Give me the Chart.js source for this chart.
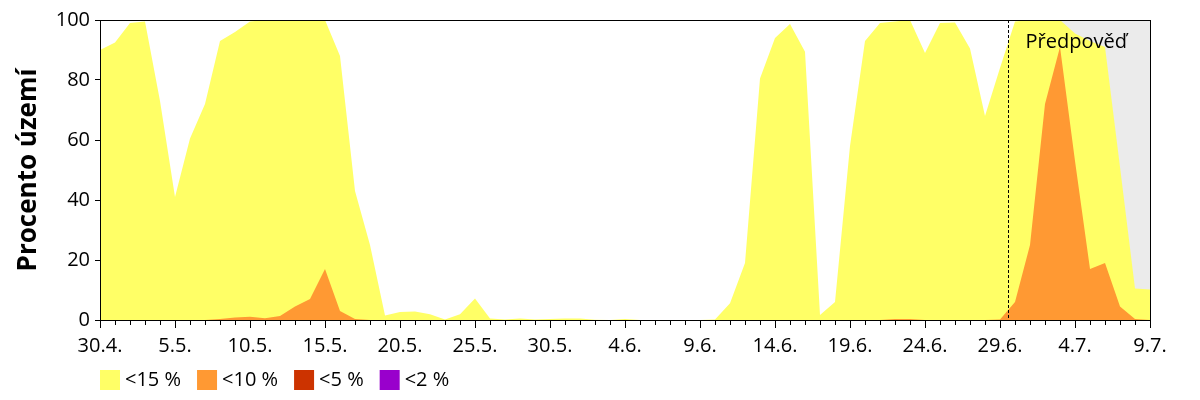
<!DOCTYPE html>
<html><head><meta charset="utf-8">
<script src="https://cdn.jsdelivr.net/npm/chart.js@4.4.1/dist/chart.umd.min.js"></script>
<style>html,body{margin:0;padding:0;background:#fff}#wrap{width:1200px;height:400px}</style>
</head><body><div id="wrap"><canvas id="c" width="1200" height="400"></canvas></div>
<script>
const dates = ['30.4.',
 '1.5.','2.5.','3.5.','4.5.','5.5.','6.5.','7.5.','8.5.','9.5.','10.5.',
 '11.5.','12.5.','13.5.','14.5.','15.5.','16.5.','17.5.','18.5.','19.5.','20.5.',
 '21.5.','22.5.','23.5.','24.5.','25.5.','26.5.','27.5.','28.5.','29.5.','30.5.','31.5.',
 '1.6.','2.6.','3.6.','4.6.','5.6.','6.6.','7.6.','8.6.','9.6.','10.6.',
 '11.6.','12.6.','13.6.','14.6.','15.6.','16.6.','17.6.','18.6.','19.6.','20.6.',
 '21.6.','22.6.','23.6.','24.6.','25.6.','26.6.','27.6.','28.6.','29.6.','30.6.',
 '1.7.','2.7.','3.7.','4.7.','5.7.','6.7.','7.7.','8.7.','9.7.'];

const tickDays = [0,5,10,15,20,25,30,35,40,45,50,55,60,65,70];

const below15 = [90,92.5,99,99.5,73,41,60.5,72,93,96,
 99.5,100,100,100,100,100,88,43,25,1.5,
 2.7,2.8,1.9,0.2,1.9,7.2,0.5,0.2,0.5,0.2,
 0.3,0.5,0.5,0.1,0,0.3,0,0,0,0,
 0,0.2,5.6,19,80.5,94,98.7,89.4,1.7,6,
 58,93,99,99.5,100,89,99,99.2,90.5,68,
 84,99.5,100,100,100,95.5,93,91,51,10.5,
 10.2];

const below10 = [0,0,0,0,0,0,0,0,0.3,0.8,
 1.1,0.6,1.3,4.5,7,17,3,0.3,0,0,
 0,0,0,0,0,0,0,0,0,0,
 0,0,0,0,0,0,0,0,0,0,
 0,0,0,0,0,0,0,0,0,0,
 0,0,0,0.3,0.3,0,0,0,0,0,
 0.2,6,25,72,91,53,17,19,4.5,0.3,
 0];

const below5 = [0,0,0,0,0,0,0,0,0,0,
 0,0,0,0,0,0,0,0,0,0,
 0,0,0,0,0,0,0,0,0,0,
 0,0,0,0,0,0,0,0,0,0,
 0,0,0,0,0,0,0,0,0,0,
 0,0,0,0,0,0,0,0,0,0,
 0,0,0,0,0,0,0,0,0,0,
 0];

const below2 = [0,0,0,0,0,0,0,0,0,0,
 0,0,0,0,0,0,0,0,0,0,
 0,0,0,0,0,0,0,0,0,0,
 0,0,0,0,0,0,0,0,0,0,
 0,0,0,0,0,0,0,0,0,0,
 0,0,0,0,0,0,0,0,0,0,
 0,0,0,0,0,0,0,0,0,0,
 0];

const seriesLabels = ['<15 %','<10 %','<5 %','<2 %'];
const seriesColors = ['#FFFF66','#FF9933','#CC3300','#9900CC'];
const yTicks = [0,20,40,60,80,100];
const forecastStart = 60.5;
const grayFrom = 64;
const forecastText = 'Předpověď';
const yTitle = 'Procento území';

const FONT = '"Open Sans", "DejaVu Sans", sans-serif';

function toXY(arr){ return arr.map((v,i)=>({x:i,y:v})); }

const allSeries = [below15, below10, below5, below2];
const datasets = allSeries.map((arr,k)=>({
  label: seriesLabels[k],
  data: toXY(arr),
  backgroundColor: seriesColors[k],
  borderColor: 'rgba(0,0,0,0)',
  borderWidth: 0,
  pointRadius: 0,
  pointHoverRadius: 0,
  tension: 0,
  fill: 'origin',
  order: 4-k
}));

const extras = {
  id:'extras',
  beforeDatasetsDraw(chart){
    const {ctx, chartArea:a, scales:{x}} = chart;
    const gx = Math.round(x.getPixelForValue(grayFrom));
    ctx.save();
    ctx.fillStyle = '#EBEBEB';
    ctx.fillRect(gx, a.top, a.right-gx, a.bottom-a.top);
    ctx.restore();
  },
  afterDatasetsDraw(chart){
    const {ctx, chartArea:a, scales:{x}} = chart;
    const fx = Math.round(x.getPixelForValue(forecastStart)) + 0.5;
    ctx.save();
    ctx.strokeStyle = '#000';
    ctx.lineWidth = 1;
    ctx.setLineDash([3,2]);
    ctx.beginPath();
    ctx.moveTo(fx, a.top);
    ctx.lineTo(fx, a.bottom);
    ctx.stroke();
    ctx.setLineDash([]);
    ctx.fillStyle = '#000';
    ctx.font = '20px ' + FONT;
    ctx.textBaseline = 'alphabetic';
    ctx.textAlign = 'left';
    ctx.fillText(forecastText, fx + 17, a.top + 28);
    ctx.restore();
  },
  afterDraw(chart){
    const {ctx, chartArea:a, scales:{x}} = chart;
    ctx.save();
    ctx.strokeStyle = '#000';
    ctx.lineWidth = 1;
    ctx.strokeRect(Math.round(a.left)+0.5, Math.round(a.top)+0.5, Math.round(a.right-a.left), Math.round(a.bottom-a.top));
    ctx.beginPath();
    for (let d=0; d<dates.length; d++){
      if (tickDays.includes(d)) continue;
      const px = Math.round(x.getPixelForValue(d)) + 0.5;
      ctx.moveTo(px, Math.round(a.bottom));
      ctx.lineTo(px, Math.round(a.bottom)+5);
    }
    ctx.stroke();
    ctx.font = '20px ' + FONT;
    ctx.textBaseline = 'middle';
    ctx.textAlign = 'left';
    let lx = a.left;
    const ly = 370;
    for (let k=0;k<seriesLabels.length;k++){
      ctx.fillStyle = seriesColors[k];
      ctx.fillRect(lx, ly, 20, 20);
      ctx.fillStyle = '#000';
      ctx.fillText(seriesLabels[k], lx + 25, ly + 10);
      lx += 25 + ctx.measureText(seriesLabels[k]).width + 16;
    }
    ctx.restore();
  }
};

new Chart(document.getElementById('c'), {
  type: 'line',
  data: { datasets },
  options: {
    responsive: false,
    animation: false,
    devicePixelRatio: 1,
    layout: { padding: { top: 20, right: 50, left: 0, bottom: 0 } },
    plugins: { legend: { display: false }, tooltip: { enabled: false } },
    scales: {
      x: {
        type: 'linear', min: 0, max: 70,
        afterFit: s => { s.height = 80; },
        afterBuildTicks: s => { s.ticks = tickDays.map(v=>({value:v})); },
        ticks: { autoSkip: false, maxRotation: 0, minRotation: 0, padding: 6, color: '#000',
          font: { family: FONT, size: 20 },
          callback: v => dates[v] },
        grid: { drawOnChartArea: false, tickLength: 8, color: '#000', tickColor: '#000' },
        border: { color: '#000', width: 1 }
      },
      y: {
        min: 0, max: 100,
        afterFit: s => { s.width = 100; },
        afterBuildTicks: s => { s.ticks = yTicks.map(v=>({value:v})); },
        ticks: { padding: 5, color: '#000', font: { family: FONT, size: 20 } },
        grid: { drawOnChartArea: false, tickLength: 5, color: '#000', tickColor: '#000' },
        border: { color: '#000', width: 1 },
        title: { display: true, text: yTitle, color: '#000',
          font: { family: FONT, size: 26, weight: 'bold' },
          padding: { top: 13, bottom: 0 } }
      }
    }
  },
  plugins: [extras]
});
</script>
</body></html>
